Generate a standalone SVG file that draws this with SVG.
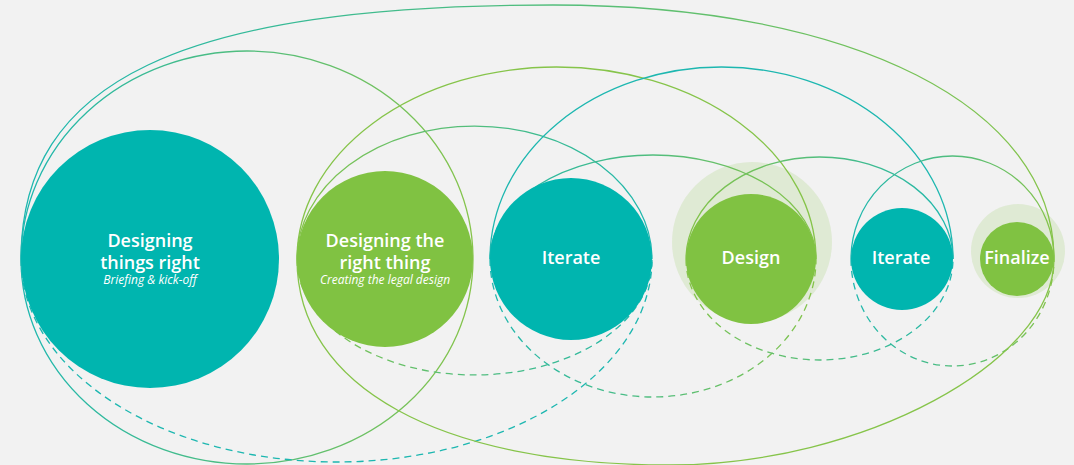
<svg xmlns="http://www.w3.org/2000/svg" width="1074" height="465" viewBox="0 0 1074 465">
<defs>
<style>
.bg{fill:#F2F2F2}
.teal{fill:#00B5AF}
.green{fill:#80C242}
.halo{fill:#80C242;fill-opacity:0.17}
.arc{fill:none;stroke-width:1.3}
.dash{stroke-dasharray:7 5}
.t{font-family:"Open Sans","Noto Sans","Liberation Sans",sans-serif;fill:#FFFFFF;text-anchor:middle}
.title{font-size:18px;font-weight:600}
.sub{font-size:12px;font-style:italic}
</style>
<linearGradient id="g1" gradientUnits="userSpaceOnUse" x1="21" y1="0" x2="1054" y2="0"><stop offset="0" stop-color="#1DB7B0"/><stop offset="1" stop-color="#86C44A"/></linearGradient>
<linearGradient id="g2" gradientUnits="userSpaceOnUse" x1="21" y1="0" x2="473" y2="0"><stop offset="0" stop-color="#1DB7B0"/><stop offset="1" stop-color="#86C44A"/></linearGradient>
<linearGradient id="g4" gradientUnits="userSpaceOnUse" x1="297" y1="0" x2="652" y2="0"><stop offset="0" stop-color="#86C44A"/><stop offset="1" stop-color="#1DB7B0"/></linearGradient>
<linearGradient id="g6" gradientUnits="userSpaceOnUse" x1="490" y1="0" x2="816" y2="0"><stop offset="0" stop-color="#1DB7B0"/><stop offset="1" stop-color="#86C44A"/></linearGradient>
<linearGradient id="g7" gradientUnits="userSpaceOnUse" x1="686" y1="0" x2="953" y2="0"><stop offset="0" stop-color="#86C44A"/><stop offset="1" stop-color="#1DB7B0"/></linearGradient>
<linearGradient id="g8" gradientUnits="userSpaceOnUse" x1="851" y1="0" x2="1054" y2="0"><stop offset="0" stop-color="#1DB7B0"/><stop offset="1" stop-color="#86C44A"/></linearGradient>
</defs>
<rect class="bg" x="0" y="0" width="1074" height="465"/>
<g id="connectors">
<path class="arc" stroke="url(#g1)" d="M21,259 C21,81 181,5 553,5 C854,5 1054,107 1054,259"/>
<path class="arc" stroke="url(#g2)" d="M21,259 A226,208 0 0 1 473,259"/>
<path class="arc" stroke="url(#g2)" d="M21,259 A226,205 0 0 0 473,259"/>
<path class="arc" stroke="#86C44A" d="M297,259 A259.5,192 0 0 1 816,259"/>
<path class="arc" stroke="url(#g4)" d="M297,259 A177.5,133 0 0 1 652,259"/>
<path class="arc dash" stroke="url(#g4)" d="M297,259 A177.5,116 0 0 0 652,259"/>
<path class="arc" stroke="#1DB7B0" d="M490,259 A231.5,192 0 0 1 953,259"/>
<path class="arc" stroke="url(#g6)" d="M490,259 A163,104 0 0 1 816,259"/>
<path class="arc dash" stroke="url(#g6)" d="M490,259 A163,138 0 0 0 816,259"/>
<path class="arc" stroke="url(#g7)" d="M686,259 A133.5,102 0 0 1 953,259"/>
<path class="arc dash" stroke="url(#g7)" d="M686,259 A133.5,101 0 0 0 953,259"/>
<path class="arc" stroke="url(#g8)" d="M851,259 A101.5,103 0 0 1 1054,259"/>
<path class="arc dash" stroke="url(#g8)" d="M851,259 A101.5,107 0 0 0 1054,259"/>
<path class="arc dash" stroke="#1DB7B0" d="M21,259 A315.5,203 0 0 0 652,259"/>
<path class="arc" stroke="#86C44A" d="M297,259 C297,387 440,465 670,465 C862,465 1054,362 1054,259"/>
</g>
<g id="node-designing-things-right">
<circle class="teal" cx="150" cy="259" r="129"/>
<text class="t title" x="150" y="247">Designing</text>
<text class="t title" x="150" y="269">things right</text>
<text class="t sub" x="150" y="283.5">Briefing &amp; kick-off</text>
</g>
<g id="node-designing-right-thing">
<circle class="green" cx="385" cy="259" r="88"/>
<text class="t title" x="385" y="247">Designing the</text>
<text class="t title" x="385" y="269">right thing</text>
<text class="t sub" x="385" y="283.5">Creating the legal design</text>
</g>
<g id="node-iterate-1">
<circle class="teal" cx="571" cy="259" r="81"/>
<text class="t title" x="571" y="264">Iterate</text>
</g>
<g id="node-design">
<circle class="halo" cx="752" cy="242" r="80"/>
<circle class="green" cx="751" cy="259" r="65"/>
<text class="t title" x="751" y="264">Design</text>
</g>
<g id="node-iterate-2">
<circle class="teal" cx="902" cy="259" r="51"/>
<text class="t title" x="901" y="264">Iterate</text>
</g>
<g id="node-finalize">
<circle class="halo" cx="1018" cy="251" r="47"/>
<circle class="green" cx="1017" cy="259" r="37"/>
<text class="t title" x="1017" y="264">Finalize</text>
</g>
</svg>
